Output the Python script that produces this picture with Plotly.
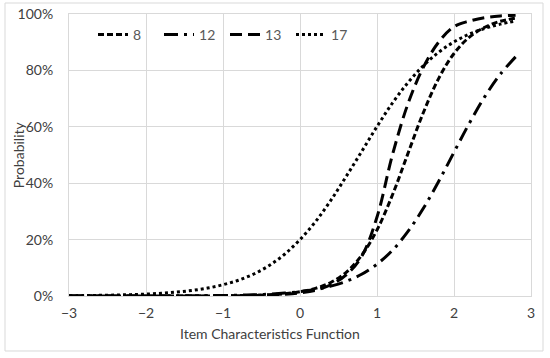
import plotly.graph_objects as go

x_vals = [-3.0, -2.8, -2.6, -2.4, -2.2, -2.0, -1.8, -1.6, -1.4, -1.2,
          -1.0, -0.8, -0.6, -0.4, -0.2, 0.0, 0.2, 0.4, 0.6, 0.8,
          1.0, 1.2, 1.4, 1.6, 1.8, 2.0, 2.2, 2.4, 2.6, 2.8]

item_8 = [0.0000, 0.0000, 0.0000, 0.0000, 0.0000, 0.0001, 0.0001, 0.0001, 0.0002, 0.0004,
          0.0008, 0.0014, 0.0025, 0.0046, 0.0083, 0.015, 0.027, 0.048, 0.084, 0.144,
          0.234, 0.358, 0.504, 0.649, 0.771, 0.860, 0.918, 0.953, 0.974, 0.985]

item_12 = [0.0000, 0.0000, 0.0000, 0.0001, 0.0001, 0.0002, 0.0003, 0.0005, 0.0007, 0.0012,
           0.0019, 0.0029, 0.0044, 0.0067, 0.0102, 0.0154, 0.0232, 0.035, 0.052, 0.077,
           0.113, 0.162, 0.228, 0.310, 0.406, 0.510, 0.613, 0.707, 0.786, 0.848]

item_13 = [0.0000, 0.0000, 0.0000, 0.0000, 0.0000, 0.0001, 0.0001, 0.0002, 0.0003, 0.0005,
           0.0007, 0.001, 0.002, 0.003, 0.006, 0.011, 0.020, 0.040, 0.075, 0.140,
           0.280, 0.500, 0.680, 0.810, 0.900, 0.955, 0.975, 0.987, 0.993, 0.996]

item_17 = [0.0011, 0.0016, 0.0023, 0.0033, 0.0047, 0.0068, 0.0097, 0.0138, 0.0197, 0.028,
           0.040, 0.056, 0.078, 0.108, 0.148, 0.200, 0.263, 0.339, 0.424, 0.512,
           0.601, 0.684, 0.756, 0.816, 0.864, 0.901, 0.929, 0.949, 0.964, 0.975]

series_names = ["8", "12", "13", "17"]
series_values = [item_8, item_12, item_13, item_17]
series_dash = ["6px,3px", "14px,6px,3px,6px", "12px,6px", "3px,3px"]

x_ticks = [-3, -2, -1, 0, 1, 2, 3]
y_ticks = [0, 0.2, 0.4, 0.6, 0.8, 1.0]
x_title = "Item Characteristics Function"
y_title = "Probability"

fig = go.Figure()
for name, vals, dash in zip(series_names, series_values, series_dash):
    fig.add_trace(go.Scatter(
        x=x_vals, y=vals, name=name, mode="lines",
        line=dict(color="black", width=3, dash=dash, shape="spline"),
    ))

grid = "#d9d9d9"
title_font = dict(family="Lato, Open Sans, sans-serif", size=14, color="#404040")
fig.update_layout(
    width=550, height=358,
    margin=dict(l=69, r=19, t=14, b=62),
    paper_bgcolor="white", plot_bgcolor="white",
    font=dict(family="Lato, Open Sans, sans-serif", size=14, color="#404040"),
    showlegend=True,
    legend=dict(orientation="h", x=0.052, y=0.926, xanchor="left", yanchor="middle",
                entrywidth=21, entrywidthmode="pixels",
                font=dict(size=14, color="#595959"), bgcolor="rgba(0,0,0,0)"),
    xaxis=dict(range=[-3, 3], tickvals=x_ticks, showgrid=True, gridcolor=grid,
               zeroline=False, showline=True, mirror=True, linecolor=grid,
               ticks="outside", ticklen=4, tickcolor="rgba(0,0,0,0)", automargin=False),
    yaxis=dict(range=[0, 1], tickvals=y_ticks, tickformat=".0%", showgrid=True,
               gridcolor=grid, zeroline=False, showline=True, mirror=True,
               linecolor=grid, ticks="outside", ticklen=12, tickcolor="rgba(0,0,0,0)",
               automargin=False),
    annotations=[
        dict(text=x_title, xref="paper", yref="paper", x=0.435, y=-0.133,
             xanchor="center", yanchor="middle", showarrow=False, font=title_font),
        dict(text=y_title, xref="paper", yref="paper", x=-0.110, y=0.5,
             xanchor="center", yanchor="middle", showarrow=False, textangle=-90,
             font=title_font),
    ],
    shapes=[dict(type="rect", xref="paper", yref="paper",
                 x0=-0.1385, x1=1.026, y0=-0.195, y1=1.039,
                 line=dict(color=grid, width=1), fillcolor="rgba(0,0,0,0)", layer="below")],
)

fig.write_html("out.html", config={"displayModeBar": False},
               post_script="document.body.style.margin='0';")
